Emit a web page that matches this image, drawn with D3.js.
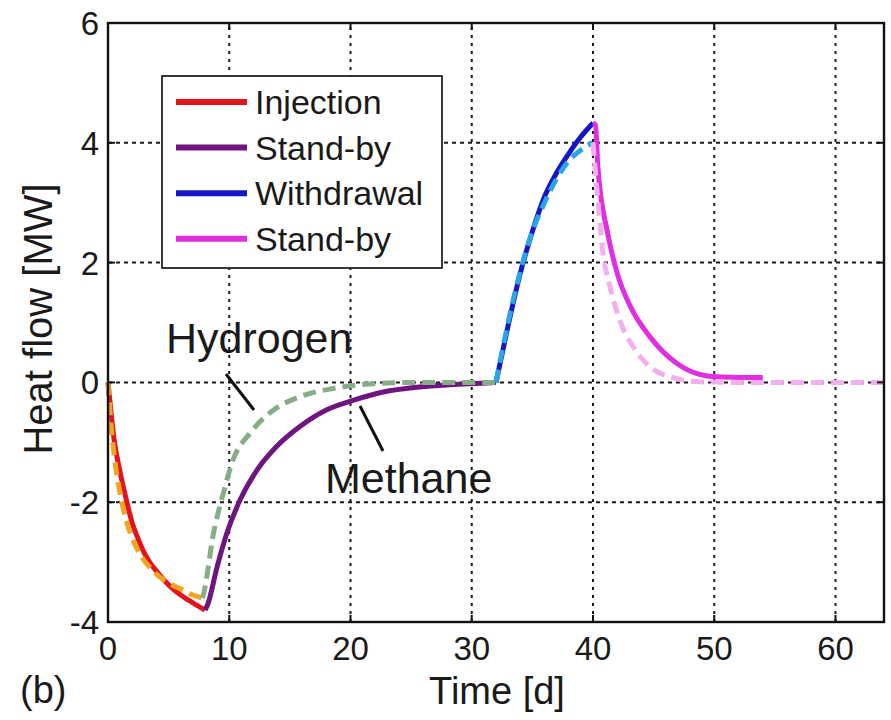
<!DOCTYPE html>
<html>
<head>
<meta charset="utf-8">
<script src="https://cdn.jsdelivr.net/npm/d3@7"></script>
<style>
  body { margin: 0; background: #fff; }
  text { font-family: "Liberation Sans", Arial, sans-serif; fill: #1a1a1a; }
</style>
</head>
<body>
<div id="chart"></div>
<script>
// data (time in days, heat flow in MW)
const methaneInjT = [0, 0.25, 0.5, 1, 1.5, 2, 2.5, 3, 3.5, 4, 5, 6, 7, 8];
const methaneInjQ = [0, -0.5, -0.95, -1.5, -1.95, -2.35, -2.62, -2.85, -3.02, -3.15, -3.38, -3.55, -3.68, -3.8];
const hydrogenInjT = [0, 0.25, 0.5, 1, 1.5, 2, 2.5, 3, 3.5, 4, 5, 6, 7, 7.8];
const hydrogenInjQ = [0, -0.7, -1.2, -1.85, -2.3, -2.6, -2.82, -2.98, -3.1, -3.2, -3.35, -3.45, -3.55, -3.6];

const methaneSb1T = [8, 8.2, 9, 9.8, 10.9, 12.3, 13.9, 15.8, 18, 20.2, 22.7, 25.5, 28.2, 32];
const methaneSb1Q = [-3.8, -3.72, -3.08, -2.52, -1.96, -1.46, -1.07, -0.74, -0.46, -0.3, -0.16, -0.08, -0.04, 0];
const hydrogenSb1T = [7.8, 7.9, 8.7, 9.5, 10.3, 11.7, 13.6, 15.8, 18.6, 21.3, 25, 32];
const hydrogenSb1Q = [-3.6, -3.52, -2.52, -1.86, -1.3, -0.85, -0.47, -0.24, -0.1, -0.03, 0, 0];

const methaneWdT = [32, 33, 34, 35, 36, 37, 38, 39, 40];
const methaneWdQ = [0, 0.95, 1.82, 2.52, 3.1, 3.5, 3.82, 4.1, 4.33];
const hydrogenWdT = [32, 33, 34, 35, 36, 37, 38, 39, 40];
const hydrogenWdQ = [0, 1.0, 1.85, 2.52, 3.0, 3.4, 3.7, 3.88, 4.0];

const methaneSb2T = [40, 40.2, 40.4, 41.2, 42, 43.1, 44.7, 46.9, 49.1, 50.7, 54];
const methaneSb2Q = [4.33, 4.3, 3.6, 2.5, 1.82, 1.26, 0.76, 0.32, 0.12, 0.09, 0.08];
const hydrogenSb2T = [40, 40.4, 40.8, 41.4, 42.2, 43.3, 44.7, 46.4, 48.8, 52, 64];
const hydrogenSb2Q = [4.0, 3.04, 2.2, 1.6, 1.04, 0.6, 0.26, 0.09, 0.01, 0, 0];

const xTicks = [0, 10, 20, 30, 40, 50, 60];
const yTicks = [-4, -2, 0, 2, 4, 6];
const legendLabels = ["Injection", "Stand-by", "Withdrawal", "Stand-by"];
const legendColors = ["#e3141b", "#6e1580", "#1616c8", "#e02ee0"];

const W = 891, H = 720;
const svg = d3.select("#chart").append("svg")
    .attr("width", W).attr("height", H);

const x = d3.scaleLinear().domain([0, 64]).range([108, 884]);
const y = d3.scaleLinear().domain([-4, 6]).range([622, 23]);

// dotted grid
const grid = svg.append("g");
grid.selectAll("line.gx").data(xTicks.filter(t => t > 0))
    .join("line")
    .attr("x1", d => x(d)).attr("x2", d => x(d))
    .attr("y1", y(-4)).attr("y2", y(6))
    .attr("stroke", "#1a1a1a").attr("stroke-width", 2)
    .attr("stroke-dasharray", "3,5");
grid.selectAll("line.gy").data(yTicks.filter(t => t > -4 && t < 6))
    .join("line")
    .attr("x1", x(0)).attr("x2", x(64))
    .attr("y1", d => y(d)).attr("y2", d => y(d))
    .attr("stroke", "#1a1a1a").attr("stroke-width", 2)
    .attr("stroke-dasharray", "4,4");

// curves
const line = d3.line().x(d => x(d[0])).y(d => y(d[1])).curve(d3.curveMonotoneX);
const zip = (t, q) => t.map((v, i) => [v, q[i]]);

const series = [
    { t: methaneInjT, q: methaneInjQ, color: "#e3141b", dash: null },
    { t: methaneSb1T, q: methaneSb1Q, color: "#6e1580", dash: null },
    { t: methaneWdT, q: methaneWdQ, color: "#1616c8", dash: null },
    { t: methaneSb2T, q: methaneSb2Q, color: "#e02ee0", dash: null },
    { t: hydrogenInjT, q: hydrogenInjQ, color: "#f2a41e", dash: "13,7" },
    { t: hydrogenSb1T, q: hydrogenSb1Q, color: "#86ad86", dash: "13,7" },
    { t: hydrogenWdT, q: hydrogenWdQ, color: "#2aa6e6", dash: "13,7" },
    { t: hydrogenSb2T, q: hydrogenSb2Q, color: "#f3aef0", dash: "13,7" }
];

svg.append("g").selectAll("path").data(series)
    .join("path")
    .attr("d", s => line(zip(s.t, s.q)))
    .attr("fill", "none")
    .attr("stroke", s => s.color)
    .attr("stroke-width", 5)
    .attr("stroke-linejoin", "round")
    .attr("stroke-dasharray", s => s.dash);

// axes box with inward ticks
const box = svg.append("g");
box.append("rect")
    .attr("x", x(0)).attr("y", y(6))
    .attr("width", x(64) - x(0)).attr("height", y(-4) - y(6))
    .attr("fill", "none").attr("stroke", "#111").attr("stroke-width", 2.4);

box.selectAll("line.tb").data(xTicks).join("line")
    .attr("x1", d => x(d)).attr("x2", d => x(d))
    .attr("y1", y(-4)).attr("y2", y(-4) - 7)
    .attr("stroke", "#111").attr("stroke-width", 2);
box.selectAll("line.tt").data(xTicks).join("line")
    .attr("class", "tt")
    .attr("x1", d => x(d)).attr("x2", d => x(d))
    .attr("y1", y(6)).attr("y2", y(6) + 7)
    .attr("stroke", "#111").attr("stroke-width", 2);
box.selectAll("line.tl").data(yTicks).join("line")
    .attr("class", "tl")
    .attr("x1", x(0)).attr("x2", x(0) + 7)
    .attr("y1", d => y(d)).attr("y2", d => y(d))
    .attr("stroke", "#111").attr("stroke-width", 2);
box.selectAll("line.tr").data(yTicks).join("line")
    .attr("class", "tr")
    .attr("x1", x(64)).attr("x2", x(64) - 7)
    .attr("y1", d => y(d)).attr("y2", d => y(d))
    .attr("stroke", "#111").attr("stroke-width", 2);

// tick labels
svg.append("g").selectAll("text").data(xTicks).join("text")
    .attr("x", d => x(d)).attr("y", 660)
    .attr("text-anchor", "middle")
    .style("font-size", "33px")
    .text(d => d);
svg.append("g").selectAll("text").data(yTicks).join("text")
    .attr("x", 99).attr("y", d => y(d) + 12)
    .attr("text-anchor", "end")
    .style("font-size", "33px")
    .text(d => d);

// axis titles
svg.append("text")
    .attr("transform", "translate(52,319) rotate(-90)")
    .attr("text-anchor", "middle")
    .style("font-size", "40px")
    .text("Heat flow [MW]");
svg.append("text")
    .attr("x", 497).attr("y", 704)
    .attr("text-anchor", "middle")
    .style("font-size", "38px")
    .text("Time [d]");
svg.append("text")
    .attr("x", 20).attr("y", 703)
    .style("font-size", "38px")
    .text("(b)");

// annotations
svg.append("text").attr("x", 166).attr("y", 353)
    .style("font-size", "43px").text("Hydrogen");
svg.append("line")
    .attr("x1", 226).attr("y1", 374).attr("x2", 254).attr("y2", 410)
    .attr("stroke", "#111").attr("stroke-width", 3);
svg.append("text").attr("x", 325).attr("y", 493)
    .style("font-size", "43px").text("Methane");
svg.append("line")
    .attr("x1", 360).attr("y1", 406).attr("x2", 383).attr("y2", 451)
    .attr("stroke", "#111").attr("stroke-width", 3);

// legend
const lg = svg.append("g");
lg.append("rect")
    .attr("x", 162).attr("y", 76).attr("width", 280).attr("height", 192)
    .attr("fill", "#fff").attr("stroke", "#222").attr("stroke-width", 1.8);
const rows = lg.selectAll("g.row").data(legendLabels).join("g")
    .attr("transform", (d, i) => `translate(0,${102 + i * 45.6})`);
rows.append("line")
    .attr("x1", 176).attr("x2", 247).attr("y1", 0).attr("y2", 0)
    .attr("stroke", (d, i) => legendColors[i]).attr("stroke-width", 6);
rows.append("text")
    .attr("x", 255).attr("y", 12)
    .style("font-size", "34px")
    .text(d => d);
</script>
</body>
</html>
